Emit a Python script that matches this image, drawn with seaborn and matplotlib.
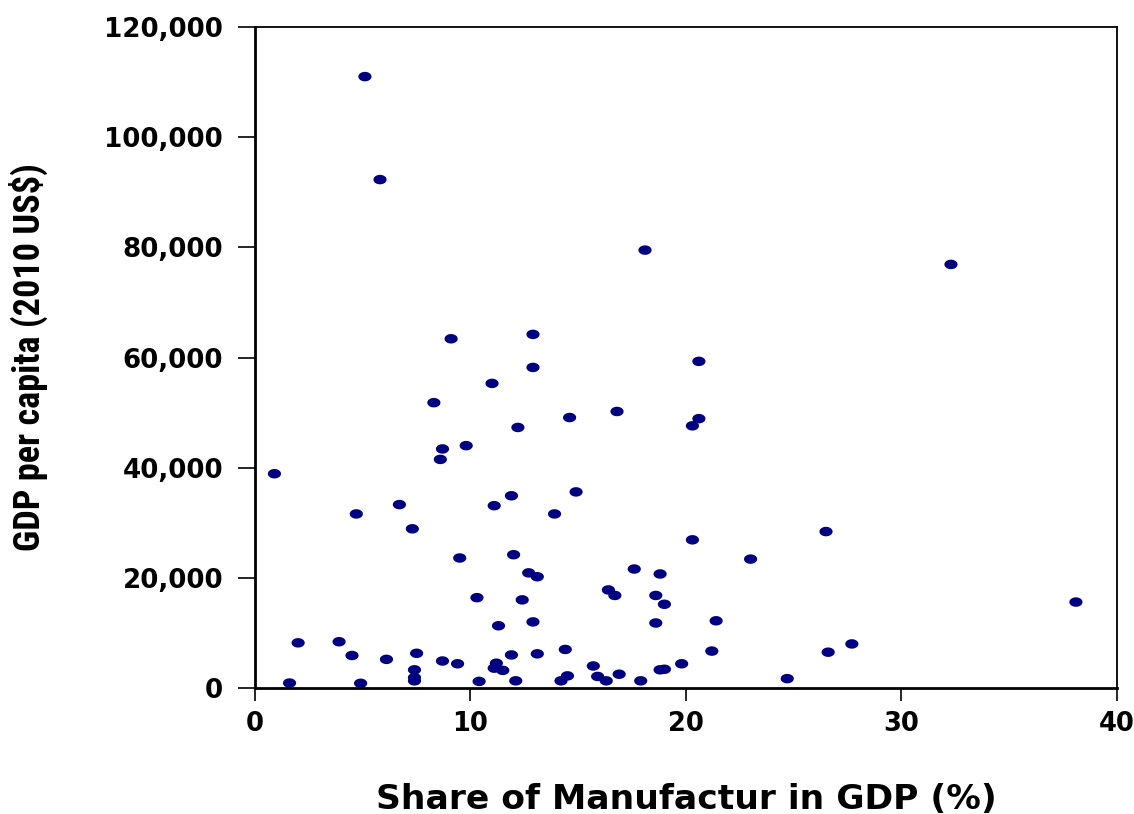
import numpy as np
import pandas as pd
import matplotlib
matplotlib.use('Agg')
import matplotlib.pyplot as plt
from matplotlib import font_manager
from matplotlib.ticker import FuncFormatter
import seaborn as sns

# share of manufacturing in GDP (%) and GDP per capita (2010 US$)
share = [5.1, 5.8, 18.1, 32.3, 12.9, 9.1, 20.6, 12.9, 11.0, 8.3,
         16.8, 14.6, 20.6, 20.3, 12.2, 9.8, 8.7, 8.6, 0.9, 14.9,
         11.9, 6.7, 11.1, 4.7, 13.9, 7.3, 26.5, 20.3, 12.0, 9.5,
         23.0, 17.6, 12.7, 18.8, 13.1, 16.4, 16.7, 18.6, 10.3, 12.4,
         19.0, 38.1, 11.3, 12.9, 18.6, 21.4, 2.0, 3.9, 27.7, 14.4,
         4.5, 7.5, 11.9, 13.1, 21.2, 26.6, 6.1, 8.7, 9.4, 15.7,
         19.8, 7.4, 11.2, 11.1, 11.5, 19.0, 18.8, 16.9, 14.5, 15.9,
         7.4, 7.4, 1.6, 4.9, 10.4, 12.1, 14.2, 16.3, 17.9, 24.7]
gdp = [111000, 92300, 79500, 76900, 64200, 63400, 59300, 58200, 55300, 51800,
       50200, 49100, 48900, 47600, 47300, 44000, 43400, 41500, 38900, 35600,
       34900, 33300, 33100, 31600, 31600, 28900, 28400, 26900, 24200, 23600,
       23400, 21600, 20900, 20700, 20200, 17800, 16800, 16800, 16400, 16000,
       15200, 15600, 11300, 12000, 11800, 12200, 8200, 8400, 8000, 7000,
       5900, 6300, 6000, 6200, 6700, 6500, 5200, 4900, 4400, 4000,
       4400, 3300, 4500, 3600, 3200, 3400, 3300, 2500, 2200, 2100,
       1900, 1300, 900, 850, 1200, 1300, 1300, 1300, 1300, 1700]

df = pd.DataFrame({'share': share, 'gdp': gdp})

sns.set_style('white')
plt.rcParams['font.family'] = ['DejaVu Sans']
plt.rcParams['text.color'] = 'black'
plt.rcParams['axes.labelcolor'] = 'black'


def pick_font(names):
    for name in names:
        try:
            font_manager.findfont(font_manager.FontProperties(family=name, weight='bold'),
                                  fallback_to_default=False)
            return name
        except Exception:
            pass
    return 'DejaVu Sans'


# the y label is in a narrow bold face
narrow = pick_font(['Liberation Sans Narrow', 'Roboto Condensed', 'Roboto', 'Liberation Sans'])

fig = plt.figure(figsize=(11.34, 8.14), dpi=100)
ax = fig.add_axes([0.2249, 0.1548, 0.7600, 0.8120])

# wide, flat dot like the original
t = np.linspace(0, 2 * np.pi, 50)
dot = np.column_stack([np.cos(t), 0.72 * np.sin(t)])

sns.scatterplot(data=df, x='share', y='gdp', marker=dot, s=90,
                color='#000080', edgecolor='none', linewidth=0, ax=ax)

ax.set_xlim(0, 40)
ax.set_ylim(0, 120000)
ax.set_xticks([0, 10, 20, 30, 40])
ax.set_yticks(range(0, 120001, 20000))
ax.yaxis.set_major_formatter(FuncFormatter(lambda v, p: f'{int(v):,}'))

for side in ['left', 'bottom']:
    ax.spines[side].set_linewidth(2.0)
for side in ['top', 'right']:
    ax.spines[side].set_linewidth(1.3)
for sp in ax.spines.values():
    sp.set_color('black')

ax.tick_params(axis='y', direction='out', length=12, width=1.2, pad=11,
               left=True, labelsize=18.8, colors='black')
ax.tick_params(axis='x', direction='out', length=9.5, width=1.2, pad=7,
               bottom=True, labelsize=18.5, colors='black')
for lab in ax.get_xticklabels() + ax.get_yticklabels():
    lab.set_fontweight('bold')

ax.set_xlabel('Share of Manufactur in GDP (%)', fontsize=24.8, fontweight='bold',
              labelpad=33)
ylab = ax.set_ylabel('GDP per capita (2010 US$)', fontsize=27, fontweight='bold',
                     family=[narrow, 'DejaVu Sans'])
ax.yaxis.set_label_coords(-0.240, 0.5)

# scale the y label so it runs the same length as in the reference (~388 px)
fig.canvas.draw()
h = ylab.get_window_extent().height
ylab.set_fontsize(27 * 388 / h)

fig.savefig('out.png', dpi=100)
